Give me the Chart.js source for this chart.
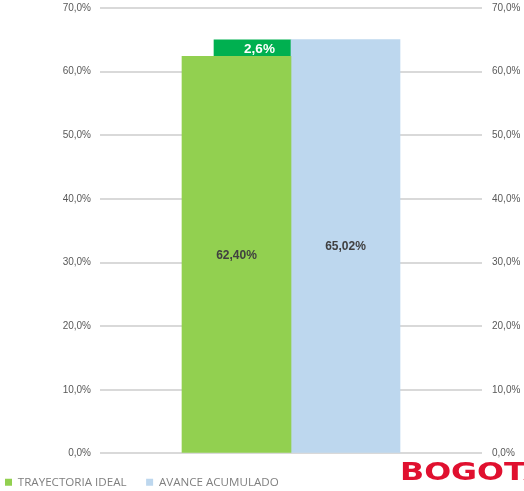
<!DOCTYPE html>
<html>
<head>
<meta charset="utf-8">
<script src="https://cdn.jsdelivr.net/npm/chart.js@4/dist/chart.umd.min.js"></script>
<style>
  html, body { margin: 0; padding: 0; background: #fff; overflow: hidden; }
  #wrap { position: relative; width: 524px; height: 491px; }
  #logo {
    position: absolute; left: 400px; top: 458px; width: 124px; height: 30px; overflow: hidden;
  }
  #logo span {
    display: block; white-space: nowrap; color: #e0102f;
    font: bold 24px "DejaVu Sans", sans-serif; line-height: 28px;
    transform: scaleX(1.32); transform-origin: left top;
  }
</style>
</head>
<body>
<div id="wrap">
  <canvas id="c" width="524" height="491"></canvas>
  <div id="logo"><span>BOGOTÁ</span></div>
</div>
<script>
const categories = [""];
const idealValues = [62.40];
const gapValues = [2.6];
const avanceValues = [65.02];
const tickValues = [0, 10, 20, 30, 40, 50, 60, 70];

const pct = (v, d) => v.toFixed(d).replace(".", ",") + "%";

/* draws the value labels in the middle of each bar */
const barLabels = {
  id: "barLabels",
  afterDatasetsDraw(chart) {
    const ctx = chart.ctx;
    ctx.save();
    ctx.textAlign = "center";
    ctx.textBaseline = "middle";
    chart.data.datasets.forEach((ds, i) => {
      if (!ds.labelText) return;
      chart.getDatasetMeta(i).data.forEach((bar, j) => {
        const txt = ds.labelText[j];
        if (!txt) return;
        const mid = (bar.y + bar.base) / 2;
        ctx.fillStyle = ds.labelColor;
        ctx.font = ds.labelFont;
        ctx.fillText(txt, bar.x + (ds.labelDx || 0), mid + 1);
      });
    });
    ctx.restore();
  }
};

const tickFont = { family: "'Liberation Sans', sans-serif", size: 10 };
const noPad = s => { s.paddingTop = 0; s.paddingBottom = 0; };

new Chart(document.getElementById("c"), {
  type: "bar",
  data: {
    labels: categories,
    datasets: [
      {
        label: "TRAYECTORIA IDEAL",
        data: idealValues,
        backgroundColor: "#92D050",
        stack: "ideal",
        barThickness: 109,
        labelText: idealValues.map(v => pct(v, 2)),
        labelColor: "#404040",
        labelFont: "bold 12px 'Liberation Sans', sans-serif"
      },
      {
        label: "AVANCE ACUMULADO",
        data: avanceValues,
        backgroundColor: "#BDD7EE",
        stack: "avance",
        barThickness: 109,
        labelText: avanceValues.map(v => pct(v, 2)),
        labelColor: "#404040",
        labelFont: "bold 12px 'Liberation Sans', sans-serif"
      },
      {
        label: "BRECHA",
        data: gapValues,
        backgroundColor: "#00B050",
        stack: "ideal",
        barThickness: 77,
        labelText: gapValues.map(v => pct(v, 1)),
        labelColor: "#ffffff",
        labelFont: "bold 13.5px 'Liberation Sans', sans-serif",
        labelDx: 7
      }
    ]
  },
  options: {
    responsive: false,
    animation: false,
    layout: { padding: { top: 8, right: 0, left: 0, bottom: -7 } },
    scales: {
      x: {
        display: true,
        afterFit: s => { s.height = 18; },
        grid: { display: false },
        border: { display: false },
        ticks: { display: false }
      },
      y: {
        position: "left",
        min: 0, max: 70,
        afterFit: s => { s.width = 100; noPad(s); },
        afterBuildTicks: s => { s.ticks = tickValues.map(v => ({ value: v })); },
        border: { display: false },
        grid: { color: "#d9d9d9", lineWidth: 2, drawTicks: false },
        ticks: {
          padding: 9,
          color: "#595959",
          font: tickFont,
          callback: v => pct(v, 1)
        }
      },
      y2: {
        position: "right",
        min: 0, max: 70,
        afterFit: s => { s.width = 42; noPad(s); },
        afterBuildTicks: s => { s.ticks = tickValues.map(v => ({ value: v })); },
        border: { display: false },
        grid: { display: false, drawTicks: false },
        ticks: {
          padding: 10,
          color: "#595959",
          font: tickFont,
          callback: v => pct(v, 1)
        }
      }
    },
    plugins: {
      legend: {
        position: "bottom",
        align: "start",
        labels: {
          boxWidth: 7, boxHeight: 7,
          padding: 5,
          color: "#7f7f7f",
          font: { family: "'Open Sans', sans-serif", size: 11.6 },
          // only the two main series, with a wider gap after the first one
          generateLabels: chart => Chart.defaults.plugins.legend.labels.generateLabels(chart)
            .filter(item => item.datasetIndex < 2)
            .map(item => {
              if (item.datasetIndex === 0) item.text += "\u2002\u2002 ";
              return item;
            })
        }
      },
      tooltip: { enabled: false }
    }
  },
  plugins: [barLabels]
});
</script>
</body>
</html>
